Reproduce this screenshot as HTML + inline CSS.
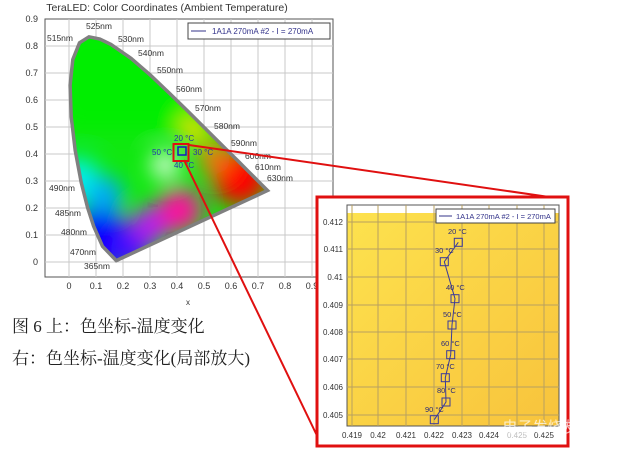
<!DOCTYPE html>
<html><head><meta charset="utf-8"><style>
html,body{margin:0;padding:0;background:#fff;width:644px;height:463px;overflow:hidden}
svg text{font-family:"Liberation Sans",sans-serif}
.cn{font-family:"Liberation Serif","Noto Serif CJK SC",serif;font-size:17px;fill:#222}
</style></head><body>
<svg width="644" height="463" xmlns="http://www.w3.org/2000/svg">
<defs>
<clipPath id="hs"><path id="hsp" d="M116.3,260.6 L102.5,246.3 L93.6,226.1 L87.6,207.7 L81.2,182.4 L75.2,150.5 L71.2,116.7 L70.1,85.2 L72.8,59.5 L79.5,42.8 L89,36.8 L99.8,39 L110.9,44.4 L131.1,58.4 L150.5,75.2 L169.7,93.5 L188.9,112.2 L207.2,130.5 L224.3,147.5 L238.3,161.3 L248.8,171.8 L260.2,183.2 L267.5,190.5 Z"/></clipPath>
<filter id="bl" x="-50%" y="-50%" width="200%" height="200%"><feGaussianBlur stdDeviation="11"/></filter>
<linearGradient id="yl" x1="0" y1="0" x2="1" y2="1"><stop offset="0" stop-color="#fde24e"/><stop offset="1" stop-color="#f8c33c"/></linearGradient>
</defs>
<text x="167" y="11" font-size="10.5" text-anchor="middle" fill="#333">TeraLED: Color Coordinates (Ambient Temperature)</text>
<rect x="45" y="19" width="288" height="258" fill="#fff" stroke="#555"/>
<g stroke="#c8c8c8" stroke-width="1">
<line x1="69" y1="19" x2="69" y2="277"/><line x1="96" y1="19" x2="96" y2="277"/><line x1="123" y1="19" x2="123" y2="277"/><line x1="150" y1="19" x2="150" y2="277"/><line x1="177" y1="19" x2="177" y2="277"/><line x1="204" y1="19" x2="204" y2="277"/><line x1="231" y1="19" x2="231" y2="277"/><line x1="258" y1="19" x2="258" y2="277"/><line x1="285" y1="19" x2="285" y2="277"/><line x1="312" y1="19" x2="312" y2="277"/>
<line x1="45" y1="262" x2="333" y2="262"/><line x1="45" y1="235" x2="333" y2="235"/><line x1="45" y1="208" x2="333" y2="208"/><line x1="45" y1="181" x2="333" y2="181"/><line x1="45" y1="154" x2="333" y2="154"/><line x1="45" y1="127" x2="333" y2="127"/><line x1="45" y1="100" x2="333" y2="100"/><line x1="45" y1="73" x2="333" y2="73"/><line x1="45" y1="46" x2="333" y2="46"/>
</g>
<g font-size="9" fill="#333" text-anchor="end">
<text x="38" y="265">0</text><text x="38" y="238">0.1</text><text x="38" y="211">0.2</text><text x="38" y="184">0.3</text><text x="38" y="157">0.4</text><text x="38" y="130">0.5</text><text x="38" y="103">0.6</text><text x="38" y="76">0.7</text><text x="38" y="49">0.8</text><text x="38" y="22">0.9</text>
</g>
<g font-size="9" fill="#333" text-anchor="middle">
<text x="69" y="289">0</text><text x="96" y="289">0.1</text><text x="123" y="289">0.2</text><text x="150" y="289">0.3</text><text x="177" y="289">0.4</text><text x="204" y="289">0.5</text><text x="231" y="289">0.6</text><text x="258" y="289">0.7</text><text x="285" y="289">0.8</text><text x="312" y="289">0.9</text>
<text x="188" y="305" font-size="8">x</text>
</g>
<g clip-path="url(#hs)">
<rect x="60" y="30" width="220" height="240" fill="#10e810"/>
<g filter="url(#bl)">
<rect x="60" y="30" width="130" height="100" fill="#00ee00"/>
<circle cx="78" cy="180" r="22" fill="#00f0f0"/>
<circle cx="100" cy="240" r="32" fill="#0000ff"/>
<circle cx="130" cy="250" r="20" fill="#4010ff"/>
<circle cx="150" cy="225" r="18" fill="#c010ff"/>
<circle cx="180" cy="210" r="22" fill="#ff10a0"/>
<circle cx="240" cy="178" r="28" fill="#ff0000"/>
<circle cx="215" cy="158" r="16" fill="#ff7010"/>
<circle cx="195" cy="130" r="14" fill="#ffe000"/>
<circle cx="105" cy="195" r="18" fill="#00a8ff"/>
<circle cx="165" cy="165" r="13" fill="#ffffff"/>
</g>
</g>
<use href="#hsp" fill="none" stroke="#808080" stroke-width="3.5"/>
<g font-size="8.5" fill="#333">
<text x="47" y="41">515nm</text><text x="86" y="29">525nm</text><text x="118" y="42">530nm</text><text x="138" y="56">540nm</text><text x="157" y="73">550nm</text><text x="176" y="92">560nm</text><text x="195" y="111">570nm</text><text x="214" y="129">580nm</text><text x="231" y="146">590nm</text><text x="245" y="159">600nm</text><text x="255" y="170">610nm</text><text x="267" y="181">630nm</text>
<text x="49" y="191">490nm</text><text x="55" y="216">485nm</text><text x="61" y="235">480nm</text><text x="70" y="255">470nm</text><text x="84" y="269">365nm</text>
</g>
<rect x="188" y="23" width="142" height="16" fill="#fff" stroke="#444"/>
<line x1="191" y1="31" x2="206" y2="31" stroke="#33338a"/>
<text x="212" y="34" font-size="8" fill="#33338a">1A1A 270mA #2 - I = 270mA</text>
<g font-size="8" fill="#2233aa">
<text x="174" y="141">20 °C</text><text x="152" y="155">50 °C</text><text x="193" y="155">30 °C</text><text x="174" y="168">40 °C</text>
</g>
<rect x="173.5" y="144" width="15" height="17" fill="none" stroke="#e01010" stroke-width="2"/>
<rect x="178" y="147" width="8" height="8" fill="none" stroke="#1020c0" stroke-width="1.5"/>
<line x1="189" y1="145" x2="556" y2="198" stroke="#e01010" stroke-width="2"/>
<line x1="184" y1="160" x2="322" y2="446" stroke="#e01010" stroke-width="2"/>
<text x="12" y="332" class="cn">图 6 上：色坐标-温度变化</text>
<text x="12" y="364" class="cn">右：色坐标-温度变化(局部放大)</text>
<rect x="317" y="197" width="251" height="249" fill="#fff" stroke="#e01010" stroke-width="3"/>
<rect x="347" y="213" width="212" height="213" fill="url(#yl)"/>
<rect x="347" y="205" width="212" height="221" fill="none" stroke="#555"/>
<g stroke="#b8a060" stroke-width="1">
<line x1="352" y1="205" x2="352" y2="426"/><line x1="378" y1="205" x2="378" y2="426"/><line x1="406" y1="205" x2="406" y2="426"/><line x1="434" y1="205" x2="434" y2="426"/><line x1="462" y1="205" x2="462" y2="426"/><line x1="489" y1="205" x2="489" y2="426"/><line x1="517" y1="205" x2="517" y2="426"/><line x1="544" y1="205" x2="544" y2="426"/>
<line x1="347" y1="222" x2="559" y2="222"/><line x1="347" y1="249" x2="559" y2="249"/><line x1="347" y1="277" x2="559" y2="277"/><line x1="347" y1="305" x2="559" y2="305"/><line x1="347" y1="332" x2="559" y2="332"/><line x1="347" y1="359" x2="559" y2="359"/><line x1="347" y1="387" x2="559" y2="387"/><line x1="347" y1="415" x2="559" y2="415"/>
</g>
<g font-size="8" fill="#333" text-anchor="end">
<text x="343" y="225">0.412</text><text x="343" y="252">0.411</text><text x="343" y="280">0.41</text><text x="343" y="308">0.409</text><text x="343" y="335">0.408</text><text x="343" y="362">0.407</text><text x="343" y="390">0.406</text><text x="343" y="418">0.405</text>
</g>
<g font-size="8" fill="#333" text-anchor="middle">
<text x="352" y="438">0.419</text><text x="378" y="438">0.42</text><text x="406" y="438">0.421</text><text x="434" y="438">0.422</text><text x="462" y="438">0.423</text><text x="489" y="438">0.424</text><text x="517" y="438" fill="#bbb">0.425</text><text x="544" y="438">0.425</text>
</g>
<rect x="436" y="209" width="119" height="14" fill="#fff" stroke="#444"/>
<line x1="439" y1="216" x2="452" y2="216" stroke="#33338a"/>
<text x="456" y="219" font-size="7.5" fill="#33338a">1A1A 270mA #2 - I = 270mA</text>
<polyline points="458.3,242.3 444.3,261.7 455,298.7 452,325 450.7,354.7 445.3,377.7 446,402 434.3,419.7" fill="none" stroke="#3a3a9a" stroke-width="1"/>
<g fill="none" stroke="#3a3a9a" stroke-width="1">
<rect x="454.3" y="238.3" width="8" height="8"/><rect x="440.3" y="257.7" width="8" height="8"/><rect x="451" y="294.7" width="8" height="8"/><rect x="448" y="321" width="8" height="8"/><rect x="446.7" y="350.7" width="8" height="8"/><rect x="441.3" y="373.7" width="8" height="8"/><rect x="442" y="398" width="8" height="8"/><rect x="430.3" y="415.7" width="8" height="8"/>
</g>
<g font-size="7.5" fill="#2a2a7a">
<text x="448" y="234">20 °C</text><text x="435" y="253">30 °C</text><text x="446" y="290">40 °C</text><text x="443" y="317">50 °C</text><text x="441" y="346">60 °C</text><text x="436" y="369">70 °C</text><text x="437" y="393">80 °C</text><text x="425" y="412">90 °C</text>
</g>
<text x="540" y="432" font-size="15" fill="#fff" opacity="0.7" text-anchor="middle" font-family="Noto Sans CJK SC,sans-serif">电子发烧友</text>
</svg>
</body></html>
